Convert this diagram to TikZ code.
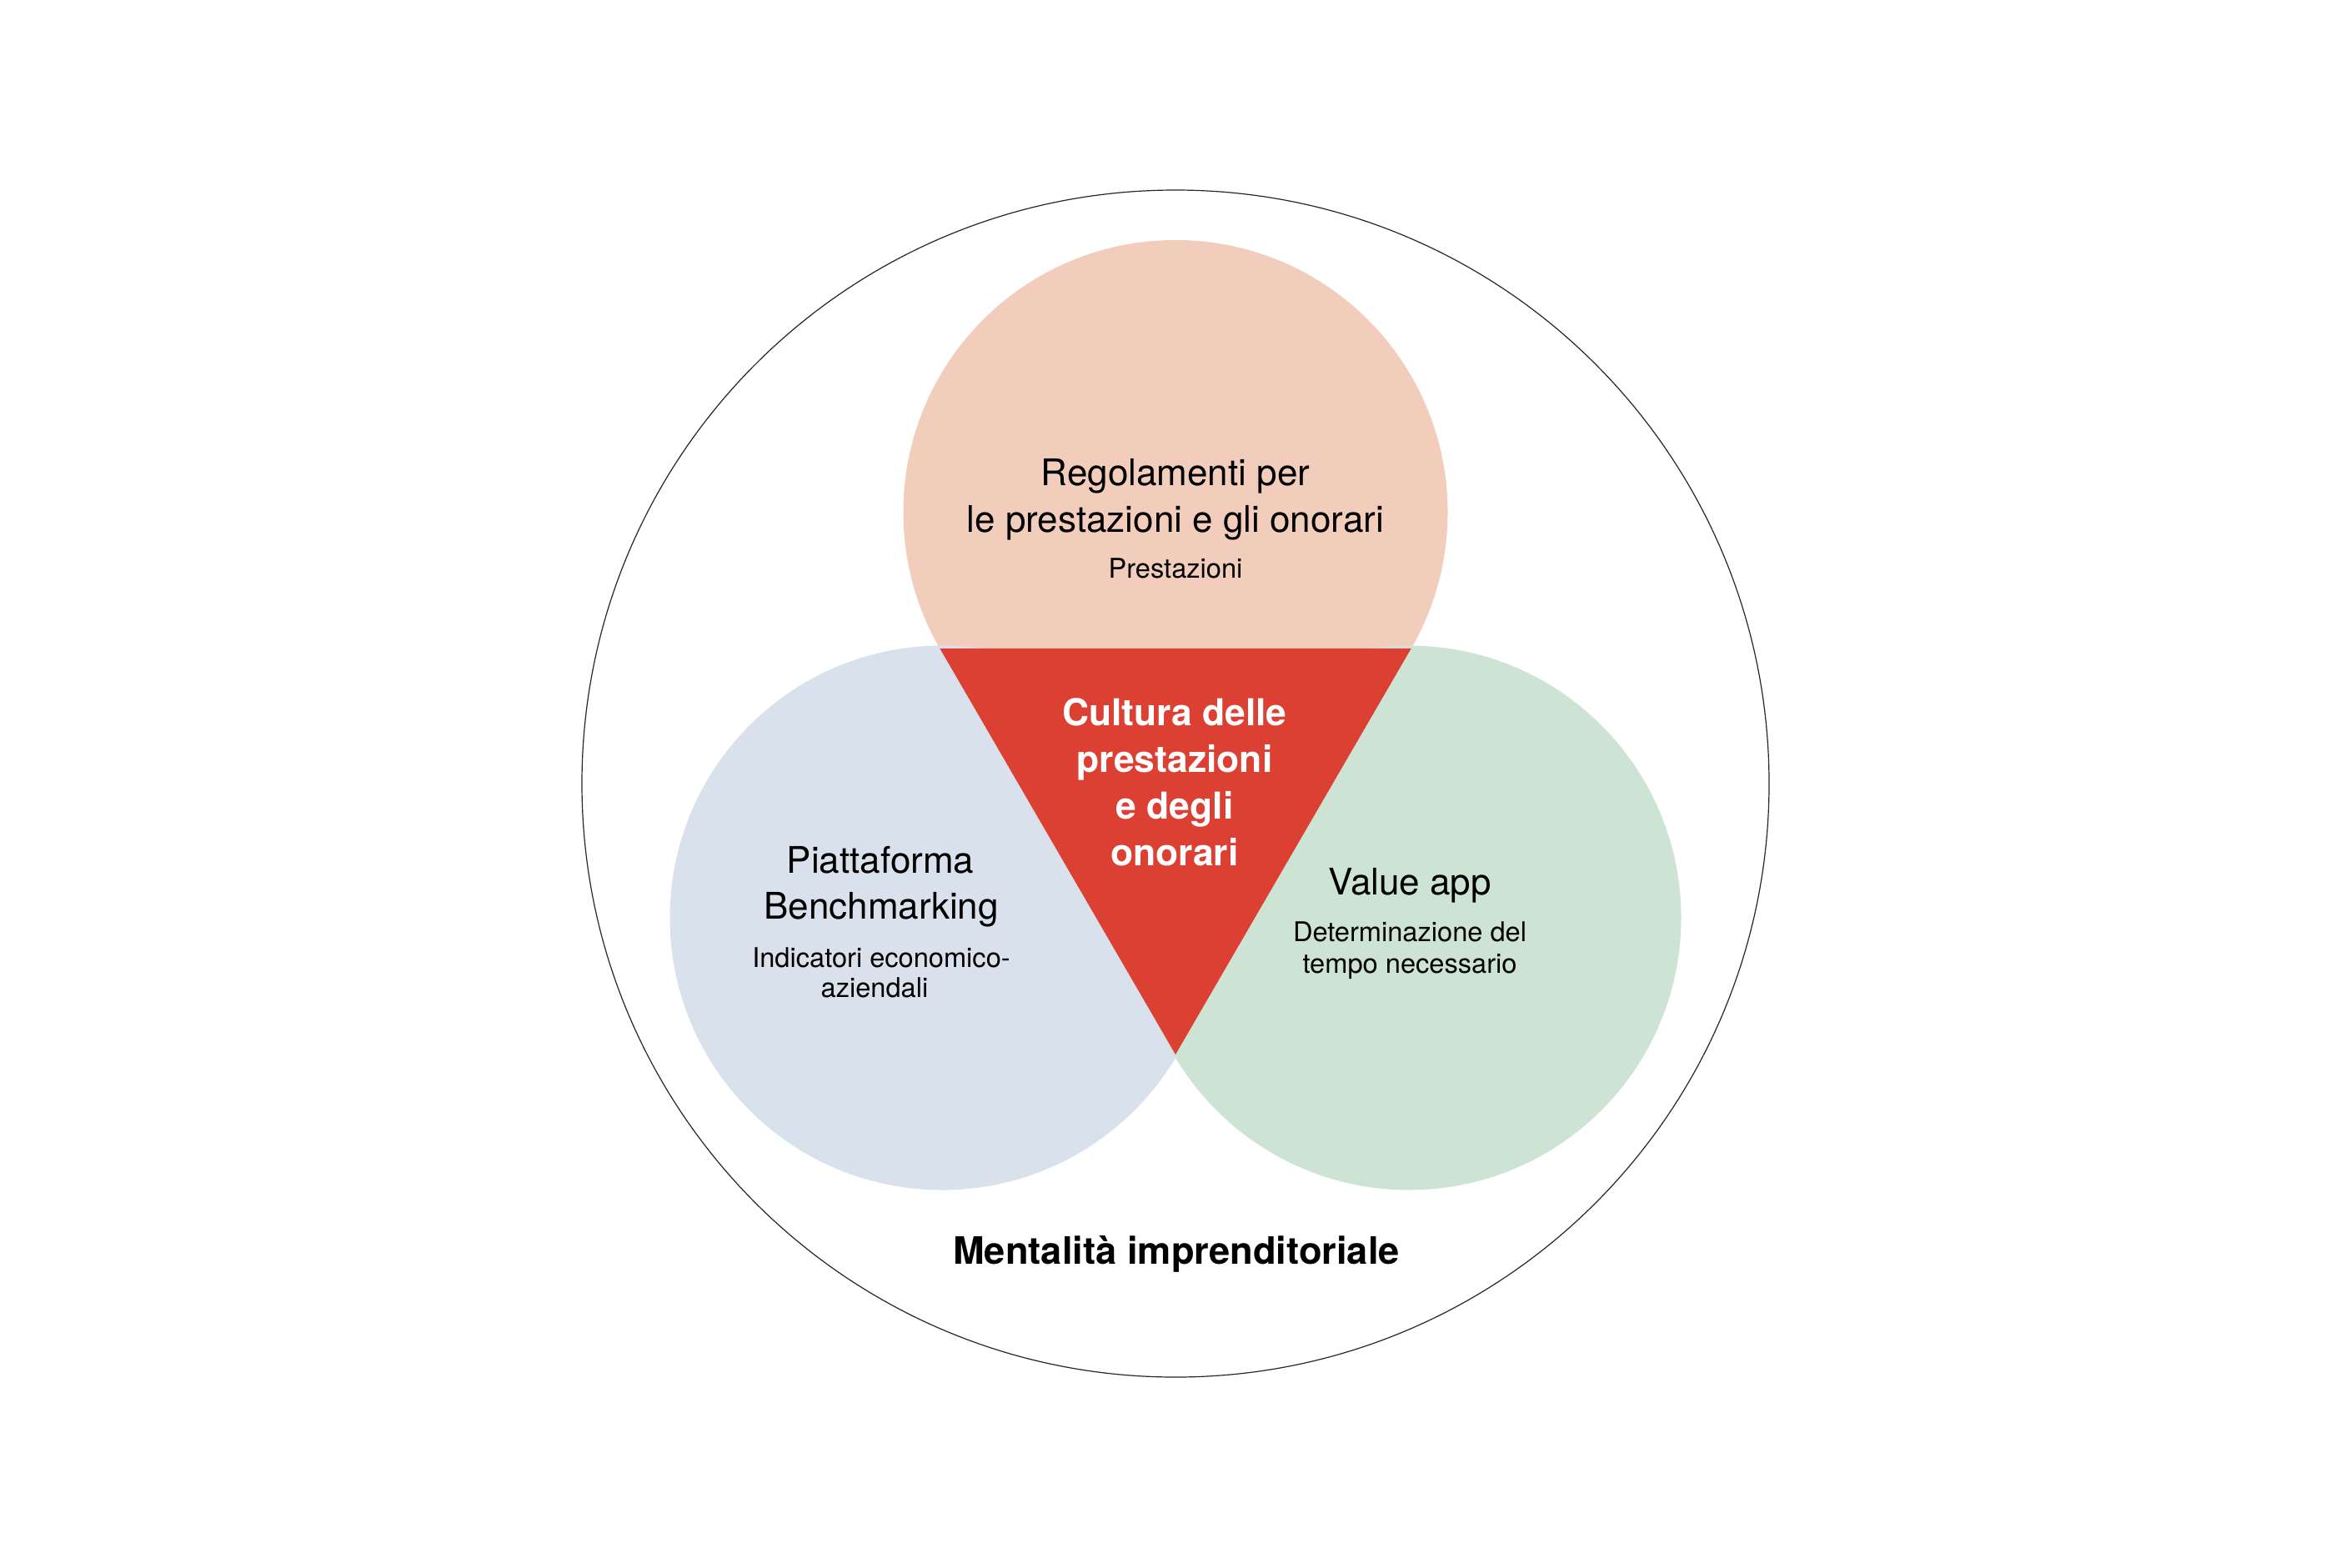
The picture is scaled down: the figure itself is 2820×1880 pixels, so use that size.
\documentclass[tikz,border=0pt]{standalone}
\usepackage{fontspec}
\setmainfont{TeX Gyre Heros}
\definecolor{salmon}{HTML}{F2CDBB}
\definecolor{paleblue}{HTML}{D8E1EC}
\definecolor{palegreen}{HTML}{CDE4D5}
\definecolor{culturered}{HTML}{DC4033}
\begin{document}
\begin{tikzpicture}[x=0.5pt,y=-0.5pt,
  bigtxt/.style={font=\fontsize{22}{28}\selectfont, anchor=base, inner sep=0pt},
  smalltxt/.style={font=\fontsize{16.3}{19}\selectfont, anchor=base, inner sep=0pt},
  boldwhite/.style={font=\fontsize{22.2}{28}\selectfont\bfseries, text=white, anchor=base, inner sep=0pt},
  boldblack/.style={font=\fontsize{22.6}{28}\selectfont\bfseries, anchor=base, inner sep=0pt}]
\useasboundingbox (0,0) rectangle (2820,1880);
\fill[white] (0,0) rectangle (2820,1880);
% geometry
\coordinate (O) at (1410,940);
\coordinate (ctop) at (1410,614.5);
\coordinate (cleft) at (1130,1101);
\coordinate (cright) at (1690,1101);
\coordinate (tl) at (1127.25,777.75);
\coordinate (tr) at (1692.75,777.75);
\coordinate (tb) at (1410,1265);
% outer circle
\draw[line width=0.6pt, black!85] (O) circle[radius=356pt];
% three circles
\fill[salmon] (ctop) circle[radius=163.25pt];
\fill[paleblue] (cleft) circle[radius=163.25pt];
\fill[palegreen] (cright) circle[radius=163.25pt];
% central triangle
\fill[culturered] (tl) -- (tr) -- (tb) -- cycle;
% top texts
\node[bigtxt] (t1) at (1410,582) {Regolamenti per};
\node[bigtxt] (t2) at (1410,638) {le prestazioni e gli onorari};
\node[smalltxt] (t3) at (1410,693) {Prestazioni};
% center texts
\node[boldwhite] (c1) at (1409,870) {Cultura delle};
\node[boldwhite] (c2) at (1409,926) {prestazioni};
\node[boldwhite] (c3) at (1409,982) {e degli};
\node[boldwhite] (c4) at (1409,1038) {onorari};
% left texts
\node[bigtxt] (l1) at (1056,1047) {Piattaforma};
\node[bigtxt] (l2) at (1057,1102) {Benchmarking};
\node[smalltxt] (l3) at (1057,1160) {Indicatori economico-};
\node[smalltxt] (l4) at (1049,1196) {aziendali};
% right texts
\node[bigtxt] (r1) at (1691,1073) {Value app};
\node[smalltxt] (r2) at (1691,1129) {Determinazione del};
\node[smalltxt] (r3) at (1691,1167) {tempo necessario};
% bottom
\node[boldblack] (m) at (1411,1516) {Mentalità imprenditoriale};
\end{tikzpicture}
\end{document}
